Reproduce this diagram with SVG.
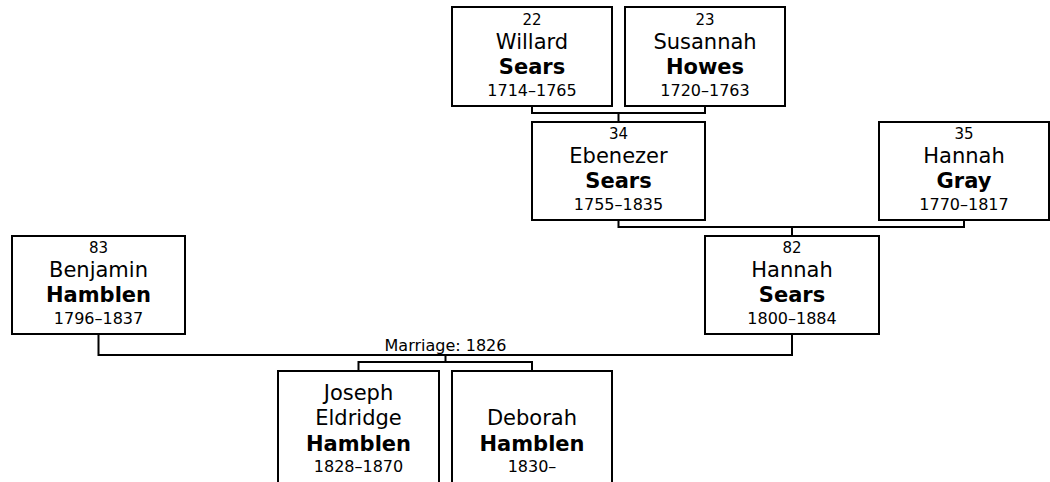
<svg xmlns="http://www.w3.org/2000/svg" width="1050" height="482" viewBox="0 0 1050 482">
<style>
  rect.box { fill: #fff; stroke: #000; stroke-width: 2; }
  .conn path { fill: none; stroke: #000; stroke-width: 2; }
  text { font-family: "DejaVu Sans", Verdana, sans-serif; fill: #000; text-anchor: middle; }
  .num { font-size: 15px; }
  .given { font-size: 21px; }
  .sur { font-size: 21px; font-weight: bold; }
  .date { font-size: 16px; }
  .lbl { font-size: 16px; }
</style>
<rect width="1050" height="482" fill="#fff"/>
<g class="conn" id="connectors">
  <path d="M532,106 V113 H705 V106 M618.5,113 V122"/>
  <path d="M618.5,220 V227 H964 V220 M792,227 V236"/>
  <path d="M98.5,334 V355 H792 V334"/>
  <path d="M445.5,355 V362 H358.5 V371 M445.5,362 H532 V371"/>
  <text class="lbl" x="445.5" y="351">Marriage: 1826</text>
</g>
<g id="p22">
  <rect class="box" x="452" y="7" width="160" height="99"/>
  <text class="num" x="532" y="25">22</text>
  <text class="given" x="532" y="49">Willard</text>
  <text class="sur" x="532" y="74">Sears</text>
  <text class="date" x="532" y="96">1714–1765</text>
</g>
<g id="p23">
  <rect class="box" x="625" y="7" width="160" height="99"/>
  <text class="num" x="705" y="25">23</text>
  <text class="given" x="705" y="49">Susannah</text>
  <text class="sur" x="705" y="74">Howes</text>
  <text class="date" x="705" y="96">1720–1763</text>
</g>
<g id="p34">
  <rect class="box" x="532" y="122" width="173" height="98"/>
  <text class="num" x="618.5" y="139">34</text>
  <text class="given" x="618.5" y="163">Ebenezer</text>
  <text class="sur" x="618.5" y="188">Sears</text>
  <text class="date" x="618.5" y="210">1755–1835</text>
</g>
<g id="p35">
  <rect class="box" x="879" y="122" width="170" height="98"/>
  <text class="num" x="964" y="139">35</text>
  <text class="given" x="964" y="163">Hannah</text>
  <text class="sur" x="964" y="188">Gray</text>
  <text class="date" x="964" y="210">1770–1817</text>
</g>
<g id="p82">
  <rect class="box" x="705" y="236" width="174" height="98"/>
  <text class="num" x="792" y="253">82</text>
  <text class="given" x="792" y="277">Hannah</text>
  <text class="sur" x="792" y="302">Sears</text>
  <text class="date" x="792" y="324">1800–1884</text>
</g>
<g id="p83">
  <rect class="box" x="12" y="236" width="173" height="98"/>
  <text class="num" x="98.5" y="253">83</text>
  <text class="given" x="98.5" y="277">Benjamin</text>
  <text class="sur" x="98.5" y="302">Hamblen</text>
  <text class="date" x="98.5" y="324">1796–1837</text>
</g>
<g id="joseph">
  <rect class="box" x="278" y="371" width="161" height="130"/>
  <text class="given" x="358.5" y="400">Joseph</text>
  <text class="given" x="358.5" y="425">Eldridge</text>
  <text class="sur" x="358.5" y="451">Hamblen</text>
  <text class="date" x="358.5" y="472">1828–1870</text>
</g>
<g id="deborah">
  <rect class="box" x="452" y="371" width="160" height="130"/>
  <text class="given" x="532" y="425">Deborah</text>
  <text class="sur" x="532" y="451">Hamblen</text>
  <text class="date" x="532" y="472">1830–</text>
</g>
</svg>
